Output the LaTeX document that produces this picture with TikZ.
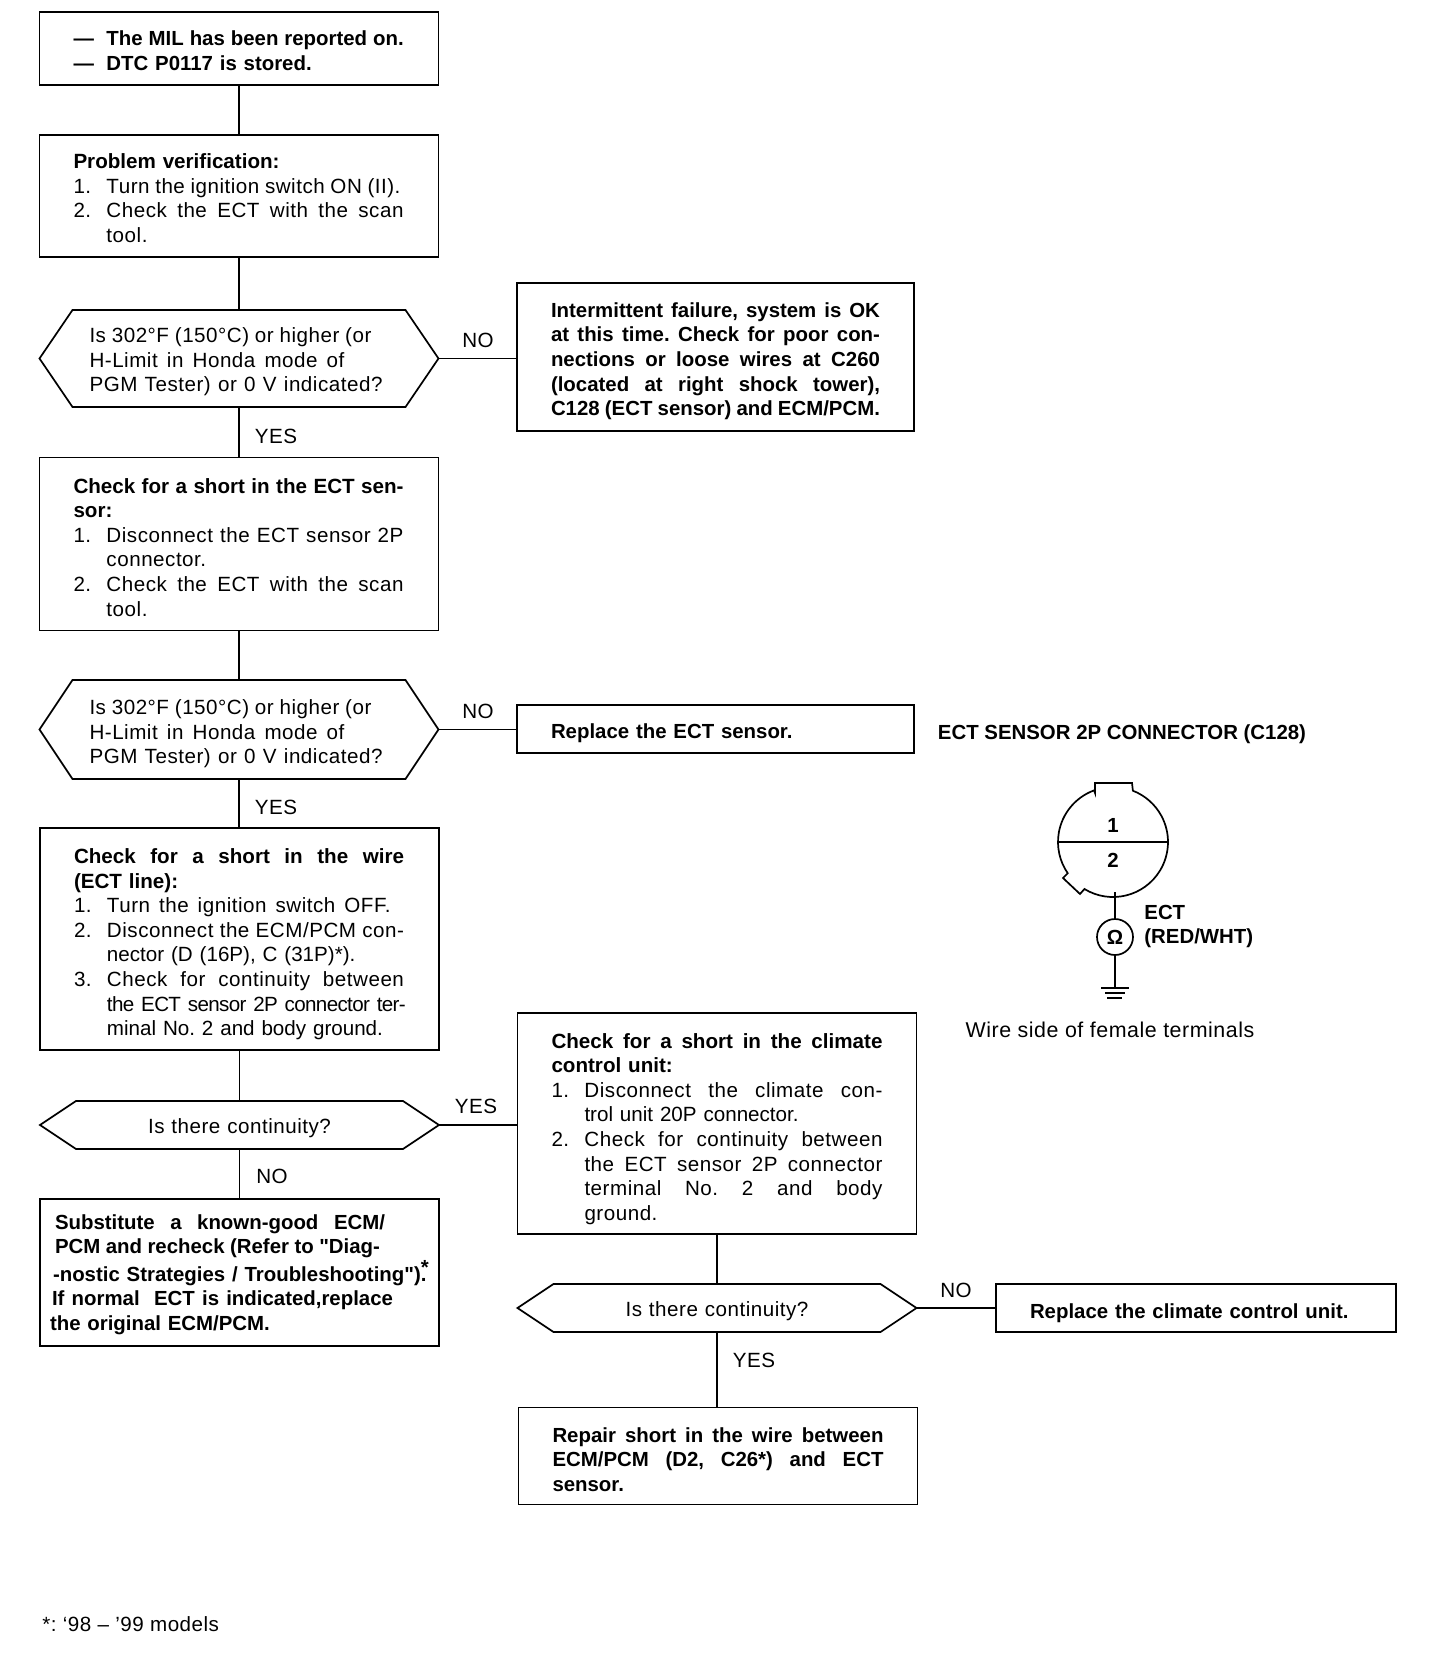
\documentclass[tikz,border=0pt]{standalone}
\usepackage{fontspec}
\setmainfont{Liberation Sans}[LetterSpace=2.5,BoldFeatures={LetterSpace=0}]
\newfontface\qf{Liberation Sans Bold}
\newcommand\jl[2]{\leavevmode\hbox to #1{\spaceskip=0.278em plus 1em minus 0.09em\relax #2}}
\newcommand\nm[2]{\makebox[16.5pt][l]{#1}\mbox{#2}}
\newcommand\ind[1]{\hspace*{16.5pt}\mbox{#1}}
\newcommand\ls[2]{\addfontfeature{LetterSpace=#1}#2}
\newcommand\hexa[2]{\draw[ln] (#1.west) -- ([xshift=#2]#1.north west) -- ([xshift=-#2]#1.north east) -- (#1.east) -- ([xshift=-#2]#1.south east) -- ([xshift=#2]#1.south west) -- cycle;}
\tikzset{
  ln/.style={line width=0.85pt,line join=miter},
  txt/.style={font=\fontsize{10.3}{12.3}\selectfont\frenchspacing},
  btxt/.style={font=\fontsize{10.2}{12.3}\selectfont\bfseries\frenchspacing},
  dn/.style={execute at begin node={\rule{0pt}{\dimexpr7.5pt+#1\relax}}},
  boxn/.style={draw,ln,rectangle,outer sep=0pt,inner xsep=17pt,inner ysep=0pt,text width=165.5pt,txt},
  hexn/.style={rectangle,outer sep=0pt,inner xsep=25pt,inner ysep=0pt,text width=149.5pt,txt},
  lab/.style={txt,inner sep=0pt},
  blab/.style={btxt,inner sep=0pt},
}
\begin{document}
\begin{tikzpicture}[x=0.5pt,y=-0.5pt]
\useasboundingbox (0,0) rectangle (1456,1660);
\fill[white] (0,0) rectangle (1456,1660);

\node[boxn,btxt,minimum height=36.5pt,dn=2pt] (a) at (239,48.5) {\nm{---}{\jl{148.6pt}{The MIL has been reported on.}}\\\nm{---}{DTC P0117 is stored.}};
\node[boxn,minimum height=61pt,dn=2.1pt] (b) at (239,196) {\textbf{Problem verification:}\\\nm{1.}{\jl{147pt}{Turn the ignition switch ON (II).}}\\\nm{2.}{\jl{148.5pt}{Check the ECT with the scan}}\\\ind{tool.}};
\node[hexn,minimum height=48.5pt,dn=3.2pt] (d1) at (239,358.5) {\jl{141pt}{Is 302°F (150°C) or higher (or}\\\jl{127.5pt}{H-Limit in Honda mode of}\\\jl{146.5pt}{PGM Tester) or 0 V indicated?}};
\hexa{d1}{16.5pt}
\node[boxn,btxt,text width=164.5pt,minimum height=74pt,dn=4.2pt] (c) at (715.5,357) {\jl{164.5pt}{Intermittent failure, system is OK}\\\jl{164.5pt}{at this time. Check for poor con-}\\\jl{164.5pt}{nections or loose wires at C260}\\\jl{164.5pt}{(located at right shock tower),}\\\jl{164.5pt}{C128 (ECT sensor) and ECM/PCM.}};
\node[boxn,minimum height=86.5pt,dn=3.2pt] (e) at (239,544) {\textbf{\jl{165pt}{Check for a short in the ECT sen-}}\\\textbf{sor:}\\\nm{1.}{\jl{148.5pt}{Disconnect the ECT sensor 2P}}\\\ind{connector.}\\\nm{2.}{\jl{148.5pt}{Check the ECT with the scan}}\\\ind{tool.}};
\node[hexn,minimum height=49.5pt,dn=4.2pt] (d2) at (239,729.5) {\jl{141pt}{Is 302°F (150°C) or higher (or}\\\jl{127.5pt}{H-Limit in Honda mode of}\\\jl{146.5pt}{PGM Tester) or 0 V indicated?}};
\hexa{d2}{16.5pt}
\node[boxn,btxt,text width=164.5pt,minimum height=24pt,dn=4.2pt] (r) at (715.5,729) {Replace the ECT sensor.};
\node[boxn,minimum height=111pt,dn=5.3pt] (f) at (239.5,939) {\textbf{\jl{165pt}{Check for a short in the wire}}\\\textbf{(ECT line):}\\\nm{1.}{\jl{141.8pt}{Turn the ignition switch OFF.}}\\\nm{2.}{\jl{148.5pt}{Disconnect the ECM/PCM con-}}\\\ind{\ls{0}{nector (D (16P), C (31P)*).}}\\\nm{3.}{\jl{148.5pt}{Check for continuity between}}\\\ind{\ls{-3.2}{the ECT sensor 2P connector ter-}}\\\ind{\ls{0}{minal No. 2 and body ground.}}};
\node[hexn,align=center,minimum height=24pt,dn=3.2pt] (d3) at (239.5,1125) {Is there continuity?};
\hexa{d3}{18pt}
\node[boxn,btxt,inner xsep=7.5pt,text width=184.5pt,minimum height=73.5pt,dn=2.1pt] (g) at (239.5,1272.5) {\jl{165pt}{Substitute a known-good ECM/}\\\jl{162.5pt}{PCM and recheck (Refer to {\qf\symbol{34}}Diag-}\\\hspace*{-1pt}\mbox{-nostic Strategies / Troubleshooting{\qf\symbol{34}})\rlap{\raisebox{3.5pt}{*}}.}\\\hspace*{-1.5pt}\jl{170.5pt}{If normal\ \ ECT is indicated,replace}\\\hspace*{-2.5pt}\mbox{the original ECM/PCM.}};
\node[boxn,minimum height=110.5pt,dn=5.3pt] (h) at (717,1123.5) {\textbf{\jl{165.5pt}{Check for a short in the climate}}\\\textbf{control unit:}\\\nm{1.}{\jl{149pt}{Disconnect the climate con-}}\\\ind{\ls{0}{trol unit 20P connector.}}\\\nm{2.}{\jl{149pt}{Check for continuity between}}\\\ind{\jl{149pt}{the ECT sensor 2P connector}}\\\ind{\jl{149pt}{terminal No. 2 and body}}\\\ind{ground.}};
\node[hexn,align=center,minimum height=24pt,dn=3.2pt] (d4) at (717,1308) {Is there continuity?};
\hexa{d4}{18pt}
\node[boxn,btxt,text width=166pt,minimum height=24pt,dn=5.3pt] (i) at (1196,1308) {Replace the climate control unit.};
\node[boxn,btxt,minimum height=48.5pt,dn=3.2pt] (j) at (718,1456) {\jl{165.5pt}{Repair short in the wire between}\\\jl{165.5pt}{ECM/PCM (D2, C26*) and ECT}\\sensor.};

\draw[ln] (a.south) -- (a.south |- b.north);
\draw[ln] (b.south) -- (b.south |- d1.north);
\draw[ln] (d1.south) -- (d1.south |- e.north);
\draw[ln] (e.south) -- (e.south |- d2.north);
\draw[ln] (d2.south) -- (d2.south |- f.north);
\draw[ln] (f.south) -- (f.south |- d3.north);
\draw[ln] (d3.south) -- (d3.south |- g.north);
\draw[ln] (h.south) -- (h.south |- d4.north);
\draw[ln] (d4.south) -- (d4.south |- j.north);
\draw[ln] (d1.east) -- (d1.east -| c.west);
\draw[ln] (d2.east) -- (d2.east -| r.west);
\draw[ln] (d3.east) -- (d3.east -| h.west);
\draw[ln] (d4.east) -- (d4.east -| i.west);

\node[lab] (l1) at (478,340) {NO};
\node[lab] (l2) at (276,436) {YES};
\node[lab] (l3) at (478,711) {NO};
\node[lab] (l4) at (276,807) {YES};
\node[lab] (l5) at (476,1106) {YES};
\node[lab] (l6) at (272,1176) {NO};
\node[lab] (l7) at (956,1290) {NO};
\node[lab] (l8) at (754,1360) {YES};

\node[blab] (t1) at (1122,734) {ECT SENSOR 2P CONNECTOR (C128)};
\coordinate (cc) at (1113,842);
\draw[ln] ([shift={(238.7:27.5pt)}]cc) arc[start angle=238.7,end angle=428.8,radius=27.5pt] -- (1132,783) -- (1095,783) -- (1095,793) -- ([shift={(110.2:27.5pt)}]cc) arc[start angle=110.2,end angle=214.6,radius=27.5pt] -- (1063,878) -- (1080,894) -- cycle;
\draw[line width=0.6pt] ([shift={(180:27.5pt)}]cc) -- ([shift={(0:27.5pt)}]cc);
\node[blab] (p1) at (1113,825) {1};
\node[blab] (p2) at (1113,860) {2};
\coordinate (wt) at (1115,892);
\coordinate (gnd) at (1115,988);
\node[circle,draw,ln,minimum size=18pt,inner sep=0pt,btxt] (ohm) at (1115,937) {Ω};
\draw[line width=1.1pt] (wt) -- (ohm.north);
\draw[line width=1.1pt] (ohm.south) -- (gnd);
\draw[ln] (1101,988) -- (1129,988);
\draw[ln] (1105,993) -- (1125,993);
\draw[line width=1.1pt] (1107,998) -- (1122,998);
\node[blab,anchor=west] (t2) at (1144,912) {ECT};
\node[blab,anchor=west] (t3) at (1144,938) {(RED/WHT)};
\node[lab,font=\fontsize{10.7}{12.3}\selectfont] (t4) at (1110,1030) {Wire side of female terminals};
\node[lab,anchor=west] (t5) at (42,1624) {*: ‘98 – ’99 models};
\end{tikzpicture}
\end{document}
